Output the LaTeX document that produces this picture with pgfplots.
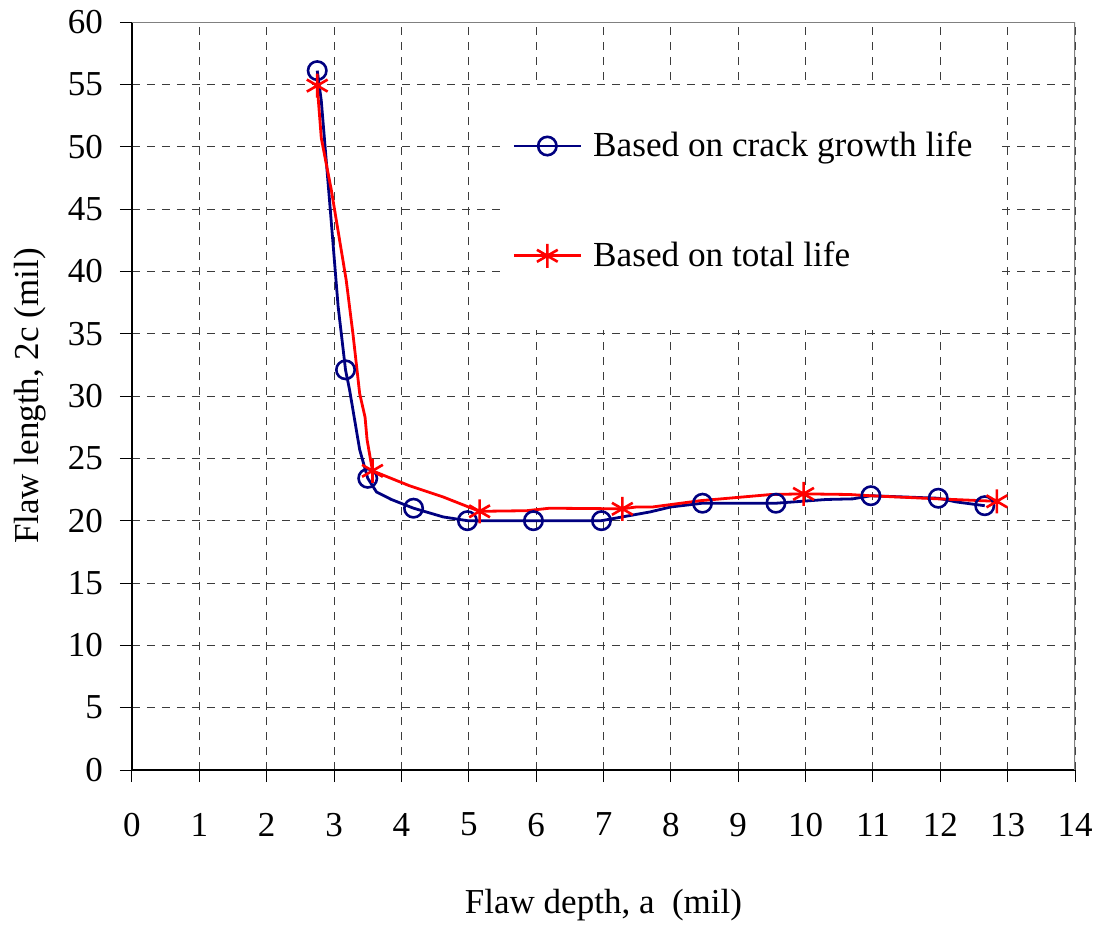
\documentclass[border=0pt]{standalone}
\usepackage{pgfplots}
\pgfplotsset{compat=1.18}
\usepackage{fontspec}
\setmainfont{Liberation Serif}
\definecolor{navyb}{RGB}{0,0,128}
\definecolor{redl}{RGB}{255,0,0}
\definecolor{gridc}{RGB}{60,60,60}
\begin{document}
\begin{tikzpicture}
\useasboundingbox (-66pt,-79pt) rectangle (483.5pt,385pt);
\begin{axis}[
  at={(0,0)}, anchor=south west,
  scale only axis, width=471.5pt, height=374pt,
  xmin=0, xmax=14, ymin=0, ymax=60,
  xtick={0,1,...,14}, ytick={0,5,...,60},
  axis x line*=bottom, axis y line*=left,
  axis line style={black, line width=0.7pt},
  tick align=outside, major tick length=6pt,
  tick style={black, line width=0.5pt},
  grid=major,
  major grid style={gridc, dash pattern=on 4pt off 3.5pt, line width=0.5pt},
  /pgf/number format/assume math mode=true,
  ticklabel style={font=\fontsize{17.5}{19}\selectfont},
  xticklabel style={yshift=-12pt},
  yticklabel style={xshift=-5pt},
  xlabel={Flaw depth, a\ \ (mil)},
  ylabel={Flaw length, 2c (mil)},
  label style={font=\fontsize{17.5}{19}\selectfont},
  xlabel style={at={(axis description cs:0.5,-0.18)}, anchor=center},
  ylabel style={at={(axis description cs:-0.108,0.5)}, anchor=center},
  legend style={draw=none, fill=none, at={(0.403,0.856)}, anchor=north west,
    font=\fontsize{17.6}{19}\selectfont, row sep=39pt, inner sep=0pt,
    nodes={inner sep=1pt}},
  legend cell align=left,
  legend image code/.code={\draw[mark indices={2}] plot coordinates {(0pt,0pt)(16.75pt,0pt)(33.5pt,0pt)}; \path (38pt,0pt);},
]
\fill[white] (axis cs:5.46,35.3) rectangle (axis cs:12.81,54.8);
\draw[gray, line width=1pt] (rel axis cs:0,1) -- (rel axis cs:1,1) -- (rel axis cs:1,0);
\addplot[navyb, line width=1.4pt, mark=o, mark size=4.6pt,
  mark options={fill=white, line width=1.3pt, solid},
  mark indices={1,5,8,11,13,14,15,18,19,22,23,25}]
coordinates {
(2.75,56.1) (2.81,53.7) (2.94,45.2) (3.06,37.2) (3.17,32.1)
(3.23,30.5) (3.38,25.7) (3.50,23.4) (3.63,22.3) (3.85,21.7)
(4.18,21.0) (4.62,20.3) (4.98,20.0) (5.96,20.0) (6.97,20.0)
(7.69,20.7) (8.0,21.1) (8.47,21.4) (9.56,21.4) (10.31,21.7)
(10.7,21.75) (10.97,22.0) (11.97,21.8) (12.24,21.5) (12.66,21.2)
};
\addlegendentry{Based on crack growth life}
\addplot[redl, line width=1.4pt, mark=asterisk, mark size=6pt,
  mark options={line width=1.3pt, solid},
  mark indices={1,9,12,15,20,25}]
coordinates {
(2.75,54.9) (2.81,50.7) (2.96,46.5) (3.18,39.3) (3.28,35.0)
(3.38,30.2) (3.46,28.3) (3.49,26.5) (3.57,24.0) (4.12,22.8)
(4.62,21.9) (5.16,20.75) (5.86,20.8) (6.2,21.0) (7.28,20.95)
(7.49,21.1) (7.73,21.1) (8.43,21.6) (9.49,22.1) (9.97,22.15)
(10.65,22.1) (10.96,22.0) (11.97,21.75) (12.63,21.6) (12.84,21.55)
};
\addlegendentry{Based on total life}
\end{axis}
\end{tikzpicture}
\end{document}
